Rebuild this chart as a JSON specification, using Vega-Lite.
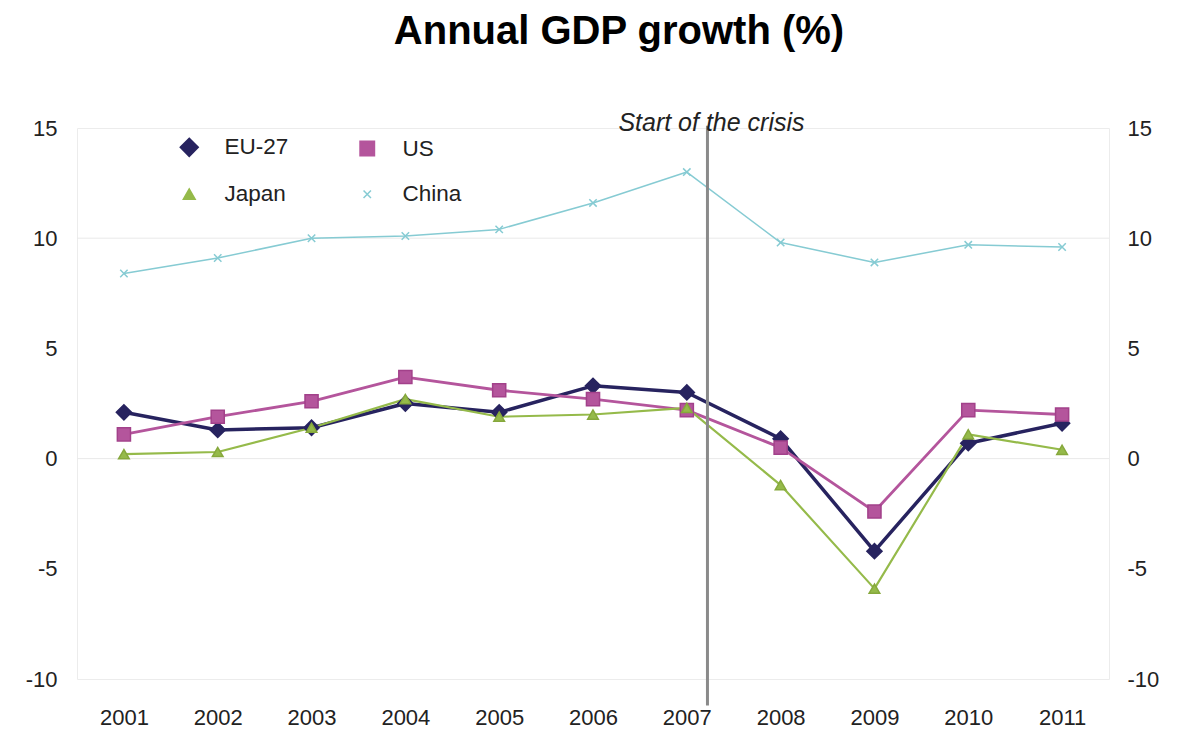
{
  "$schema": "https://vega.github.io/schema/vega-lite/v6.json",
  "width": 1032,
  "height": 551,
  "autosize": "none",
  "padding": {"left": 77, "top": 128, "right": 71, "bottom": 66},
  "background": "white",
  "config": {
    "font": "Liberation Sans",
    "view": {"stroke": "#ececec"},
    "axis": {"labelFont": "Liberation Sans", "labelFontSize": 22, "labelColor": "#222222", "grid": false, "ticks": false, "domain": false, "title": null},
    "legend": {
      "title": null, "orient": "none", "legendX": 101, "legendY": 8, "columns": 2, "direction": "horizontal", "padding": 0,
      "labelFontSize": 22.5, "labelFont": "Liberation Sans", "labelColor": "#222222",
      "labelOffset": 24, "columnPadding": 66, "rowPadding": 21
    }
  },
  "title": {"text": "Annual GDP growth (%)", "fontSize": 40, "fontWeight": "bold", "font": "Liberation Sans", "color": "#000000", "anchor": "middle", "dx": 26, "offset": 59},
  "datasets": {
    "gdp": [
      {"year": 2001, "series": "EU-27", "growth": 2.1},
      {"year": 2002, "series": "EU-27", "growth": 1.3},
      {"year": 2003, "series": "EU-27", "growth": 1.4},
      {"year": 2004, "series": "EU-27", "growth": 2.5},
      {"year": 2005, "series": "EU-27", "growth": 2.1},
      {"year": 2006, "series": "EU-27", "growth": 3.3},
      {"year": 2007, "series": "EU-27", "growth": 3.0},
      {"year": 2008, "series": "EU-27", "growth": 0.9},
      {"year": 2009, "series": "EU-27", "growth": -4.2},
      {"year": 2010, "series": "EU-27", "growth": 0.7},
      {"year": 2011, "series": "EU-27", "growth": 1.6},
      {"year": 2001, "series": "US", "growth": 1.1},
      {"year": 2002, "series": "US", "growth": 1.9},
      {"year": 2003, "series": "US", "growth": 2.6},
      {"year": 2004, "series": "US", "growth": 3.7},
      {"year": 2005, "series": "US", "growth": 3.1},
      {"year": 2006, "series": "US", "growth": 2.7},
      {"year": 2007, "series": "US", "growth": 2.2},
      {"year": 2008, "series": "US", "growth": 0.5},
      {"year": 2009, "series": "US", "growth": -2.4},
      {"year": 2010, "series": "US", "growth": 2.2},
      {"year": 2011, "series": "US", "growth": 2.0},
      {"year": 2001, "series": "Japan", "growth": 0.2},
      {"year": 2002, "series": "Japan", "growth": 0.3},
      {"year": 2003, "series": "Japan", "growth": 1.4},
      {"year": 2004, "series": "Japan", "growth": 2.7},
      {"year": 2005, "series": "Japan", "growth": 1.9},
      {"year": 2006, "series": "Japan", "growth": 2.0},
      {"year": 2007, "series": "Japan", "growth": 2.3},
      {"year": 2008, "series": "Japan", "growth": -1.2},
      {"year": 2009, "series": "Japan", "growth": -5.9},
      {"year": 2010, "series": "Japan", "growth": 1.1},
      {"year": 2011, "series": "Japan", "growth": 0.4},
      {"year": 2001, "series": "China", "growth": 8.4},
      {"year": 2002, "series": "China", "growth": 9.1},
      {"year": 2003, "series": "China", "growth": 10.0},
      {"year": 2004, "series": "China", "growth": 10.1},
      {"year": 2005, "series": "China", "growth": 10.4},
      {"year": 2006, "series": "China", "growth": 11.6},
      {"year": 2007, "series": "China", "growth": 13.0},
      {"year": 2008, "series": "China", "growth": 9.8},
      {"year": 2009, "series": "China", "growth": 8.9},
      {"year": 2010, "series": "China", "growth": 9.7},
      {"year": 2011, "series": "China", "growth": 9.6}
    ],
    "grid": [{"g": 10}, {"g": 0}],
    "crisis": [{"year": 2007.22, "top": 15.1, "bottom": -11.2, "texty": 15, "label": "Start of the crisis"}]
  },
  "layer": [
    {
      "data": {"name": "grid"},
      "mark": {"type": "rule", "color": "#e9e9e9", "strokeWidth": 1},
      "encoding": {
        "y": {"field": "g", "type": "quantitative", "scale": {"domain": [-10, 15], "nice": false, "zero": false}, "axis": null}
      }
    },
    {
      "data": {"name": "gdp"},
      "mark": {"type": "line", "strokeJoin": "round"},
      "encoding": {
        "x": {"field": "year", "type": "quantitative", "scale": {"domain": [2000.5, 2011.5], "nice": false, "zero": false}, "axis": {"values": [2001, 2002, 2003, 2004, 2005, 2006, 2007, 2008, 2009, 2010, 2011], "format": "d", "labelPadding": 28, "orient": "bottom"}},
        "y": {"field": "growth", "type": "quantitative", "scale": {"domain": [-10, 15], "nice": false, "zero": false}, "axis": {"orient": "left", "values": [-10, -5, 0, 5, 10, 15], "labelPadding": 20, "labelExpr": "datum.value < 0 ? '-' + abs(datum.value) : '' + datum.value"}},
        "color": {
          "field": "series", "type": "nominal",
          "scale": {"domain": ["EU-27", "US", "Japan", "China"], "range": ["#27235f", "#b4559c", "#95ba4a", "#86cbd3"]},
          "legend": {}
        },
        "strokeWidth": {"field": "series", "type": "nominal", "scale": {"domain": ["EU-27", "US", "Japan", "China"], "range": [3.5, 1.5, 1.5, 1.5]}, "legend": null}
      }
    },
    {
      "data": {"name": "gdp"},
      "mark": {"type": "point", "filled": true, "opacity": 1, "strokeWidth": 1.5},
      "encoding": {
        "x": {"field": "year", "type": "quantitative"},
        "y": {"field": "growth", "type": "quantitative", "axis": {"orient": "right", "values": [-10, -5, 0, 5, 10, 15], "labelPadding": 18, "labelExpr": "datum.value < 0 ? '-' + abs(datum.value) : '' + datum.value"}},
        "color": {"field": "series", "type": "nominal", "legend": null},
        "stroke": {"field": "series", "type": "nominal", "scale": {"domain": ["EU-27", "US", "Japan", "China"], "range": ["#27235f", "#a2418a", "#86a83c", "#86cbd3"]}, "legend": null},
        "shape": {"field": "series", "type": "nominal", "scale": {"domain": ["EU-27", "US", "Japan", "China"], "range": ["diamond", "square", "triangle-up", "M-1,-1L1,1M-1,1L1,-1"]}, "legend": null},
        "size": {"field": "series", "type": "nominal", "scale": {"domain": ["EU-27", "US", "Japan", "China"], "range": [230, 55, 90, 120]}, "legend": null}
      }
    },
    {
      "data": {"name": "crisis"},
      "mark": {"type": "rule", "color": "#8a8a8a", "strokeWidth": 3},
      "encoding": {
        "x": {"field": "year", "type": "quantitative"},
        "y": {"field": "top", "type": "quantitative", "axis": null},
        "y2": {"field": "bottom"}
      }
    },
    {
      "data": {"name": "crisis"},
      "mark": {"type": "text", "fontStyle": "italic", "fontSize": 25, "font": "Liberation Sans", "color": "#222222", "align": "center", "baseline": "middle", "dx": 4, "dy": -5},
      "encoding": {
        "x": {"field": "year", "type": "quantitative"},
        "y": {"field": "texty", "type": "quantitative", "axis": null},
        "text": {"field": "label"}
      }
    }
  ],
  "resolve": {"axis": {"y": "independent"}}
}
